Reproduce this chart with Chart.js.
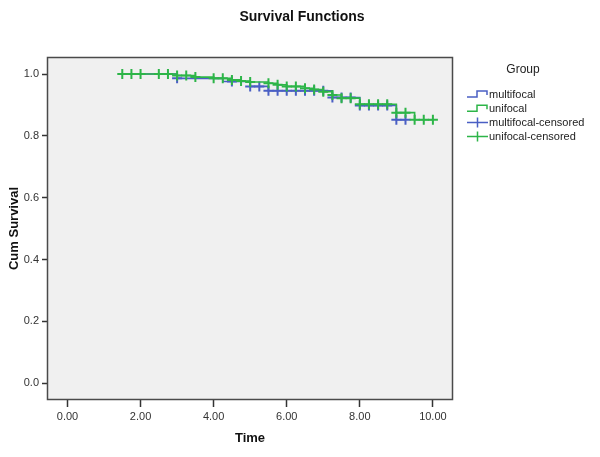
<!DOCTYPE html>
<html>
<head>
<meta charset="utf-8">
<script src="https://cdn.jsdelivr.net/npm/chart.js@4/dist/chart.umd.min.js"></script>
<style>
  html, body { margin: 0; padding: 0; background: #ffffff; }
  #wrap { width: 600px; height: 457px; position: relative; }
</style>
</head>
<body>
<div id="wrap"><canvas id="c" width="600" height="457"></canvas></div>
<script>
// ---- Data ----
const chartTitle = "Survival Functions";
const legendTitle = "Group";
const seriesNames = ["multifocal", "unifocal", "multifocal-censored", "unifocal-censored"];

// Kaplan-Meier step curves (time, survival after that time)
const multiTimes = [1.5, 3.0, 4.25, 5.0, 5.5, 7.25, 8.0, 9.0, 9.25];
const multiSurv  = [1.0, 0.986, 0.976, 0.960, 0.946, 0.924, 0.898, 0.852, 0.852];

const uniTimes = [1.5, 3.0, 3.5, 4.0, 4.5, 4.75, 5.0, 5.5, 5.75, 6.0, 6.5, 6.75, 7.0, 7.25, 7.5, 8.0, 9.0, 9.5, 10.0];
const uniSurv  = [1.0, 0.995, 0.990, 0.986, 0.981, 0.977, 0.974, 0.970, 0.965, 0.960, 0.954, 0.950, 0.943, 0.932, 0.922, 0.902, 0.875, 0.852, 0.852];

// Censored observations
const multiCensTimes = [3.0, 4.5, 5.0, 5.25, 5.5, 5.75, 6.0, 6.25, 6.5, 6.75, 7.0, 7.25, 7.5, 7.75, 8.0, 8.25, 8.5, 8.75, 9.0, 9.25];
const multiCensSurv  = [0.986, 0.976, 0.960, 0.960, 0.946, 0.946, 0.946, 0.946, 0.946, 0.946, 0.946, 0.924, 0.924, 0.924, 0.898, 0.898, 0.898, 0.898, 0.852, 0.852];

const uniCensTimes = [1.5, 1.75, 2.0, 2.5, 2.75, 3.0, 3.25, 3.5, 4.0, 4.25, 4.5, 4.75, 5.0, 5.5, 5.75, 6.0, 6.25, 6.5, 6.75, 7.0, 7.25, 7.5, 7.75, 8.0, 8.25, 8.5, 8.75, 9.0, 9.25, 9.5, 9.75, 10.0];
const uniCensSurv  = [1.0, 1.0, 1.0, 1.0, 1.0, 0.995, 0.995, 0.990, 0.986, 0.986, 0.981, 0.977, 0.974, 0.970, 0.965, 0.960, 0.960, 0.954, 0.950, 0.943, 0.932, 0.922, 0.922, 0.902, 0.902, 0.902, 0.902, 0.875, 0.875, 0.852, 0.852, 0.852];

const xTicks = [0, 2, 4, 6, 8, 10];
const yTicks = [0, 0.2, 0.4, 0.6, 0.8, 1.0];

// ---- Styles ----
const blue = '#4a5fc4';
const green = '#2db548';
const FONT = '"Liberation Sans", Arial, sans-serif';
const pts = (xs, ys) => xs.map((x, i) => ({ x: x, y: ys[i] }));

const bgPlugin = {
  id: 'plotBg',
  beforeDatasetsDraw(chart) {
    const { ctx, chartArea: a } = chart;
    ctx.save();
    ctx.fillStyle = '#f0f0f0';
    ctx.fillRect(a.left, a.top, a.right - a.left, a.bottom - a.top);
    ctx.restore();
  },
  afterDraw(chart) {
    const { ctx, chartArea: a } = chart;
    ctx.save();
    ctx.strokeStyle = '#4a4a4a';
    ctx.lineWidth = 1.5;
    ctx.strokeRect(a.left + 0.5, a.top + 0.5, a.right - a.left - 1, a.bottom - a.top - 1);

    // main title
    ctx.fillStyle = '#111';
    ctx.font = 'bold 14px ' + FONT;
    ctx.textAlign = 'center';
    ctx.textBaseline = 'middle';
    ctx.fillText(chartTitle, 302, 17);

    // legend
    const lx = 467, ly0 = 94, dy = 14.2;
    ctx.fillStyle = '#222';
    ctx.font = '12px ' + FONT;
    ctx.fillText(legendTitle, 523, 70);
    ctx.textAlign = 'left';
    ctx.font = '11px ' + FONT;
    const cols = [blue, green, blue, green];
    seriesNames.forEach((name, i) => {
      const y = ly0 + i * dy;
      ctx.strokeStyle = cols[i];
      ctx.lineWidth = 1.5;
      ctx.beginPath();
      if (i < 2) {
        ctx.moveTo(lx, y + 3); ctx.lineTo(lx + 10, y + 3);
        ctx.lineTo(lx + 10, y - 3); ctx.lineTo(lx + 20, y - 3);
        ctx.lineTo(lx + 20, y + 1);
      } else {
        ctx.moveTo(lx, y); ctx.lineTo(lx + 21, y);
        ctx.moveTo(lx + 10.5, y - 5); ctx.lineTo(lx + 10.5, y + 5);
      }
      ctx.stroke();
      ctx.fillStyle = '#222';
      ctx.fillText(name, lx + 22, y + 0.5);
    });
    ctx.restore();
  }
};

new Chart(document.getElementById('c'), {
  type: 'line',
  data: {
    datasets: [
      { label: seriesNames[0], data: pts(multiTimes, multiSurv), borderColor: blue, borderWidth: 1.6, stepped: true, pointRadius: 0, fill: false, order: 3 },
      { label: seriesNames[1], data: pts(uniTimes, uniSurv), borderColor: green, borderWidth: 1.6, stepped: true, pointRadius: 0, fill: false, order: 1 },
      { label: seriesNames[2], data: pts(multiCensTimes, multiCensSurv), showLine: false, pointStyle: 'cross', pointRadius: 5, borderColor: blue, borderWidth: 2, order: 2 },
      { label: seriesNames[3], data: pts(uniCensTimes, uniCensSurv), showLine: false, pointStyle: 'cross', pointRadius: 5, borderColor: green, borderWidth: 2, order: 0 }
    ]
  },
  options: {
    responsive: false,
    animation: false,
    events: [],
    layout: { padding: { top: 57, right: 147, bottom: 0, left: 0 } },
    plugins: {
      legend: { display: false },
      tooltip: { enabled: false },
      title: { display: false }
    },
    scales: {
      x: {
        type: 'linear',
        min: -0.56,
        max: 10.55,
        afterBuildTicks: (s) => { s.ticks = xTicks.map(v => ({ value: v })); },
        afterFit: (s) => { s.height = 57; },
        ticks: {
          color: '#333',
          font: { family: FONT, size: 11 },
          padding: 3,
          maxRotation: 0,
          callback: (v) => Number(v).toFixed(2)
        },
        grid: { display: true, drawOnChartArea: false, drawTicks: true, tickLength: 7, tickColor: '#333', tickWidth: 1.5 },
        border: { display: false },
        title: {
          display: true,
          text: 'Time',
          color: '#111',
          font: { family: FONT, size: 13, weight: 'bold' },
          padding: { top: 0, bottom: 11 }
        }
      },
      y: {
        type: 'linear',
        min: -0.054,
        max: 1.055,
        afterBuildTicks: (s) => { s.ticks = yTicks.map(v => ({ value: v })); },
        afterFit: (s) => { s.width = 47; },
        ticks: {
          color: '#333',
          font: { family: FONT, size: 11 },
          padding: 3,
          callback: (v) => Number(v).toFixed(1)
        },
        grid: { display: true, drawOnChartArea: false, drawTicks: true, tickLength: 5, tickColor: '#333', tickWidth: 1.5 },
        border: { display: false },
        title: {
          display: true,
          text: 'Cum Survival',
          color: '#111',
          font: { family: FONT, size: 13, weight: 'bold' },
          padding: { top: 7, bottom: 0 }
        }
      }
    }
  },
  plugins: [bgPlugin]
});
</script>
</body>
</html>
